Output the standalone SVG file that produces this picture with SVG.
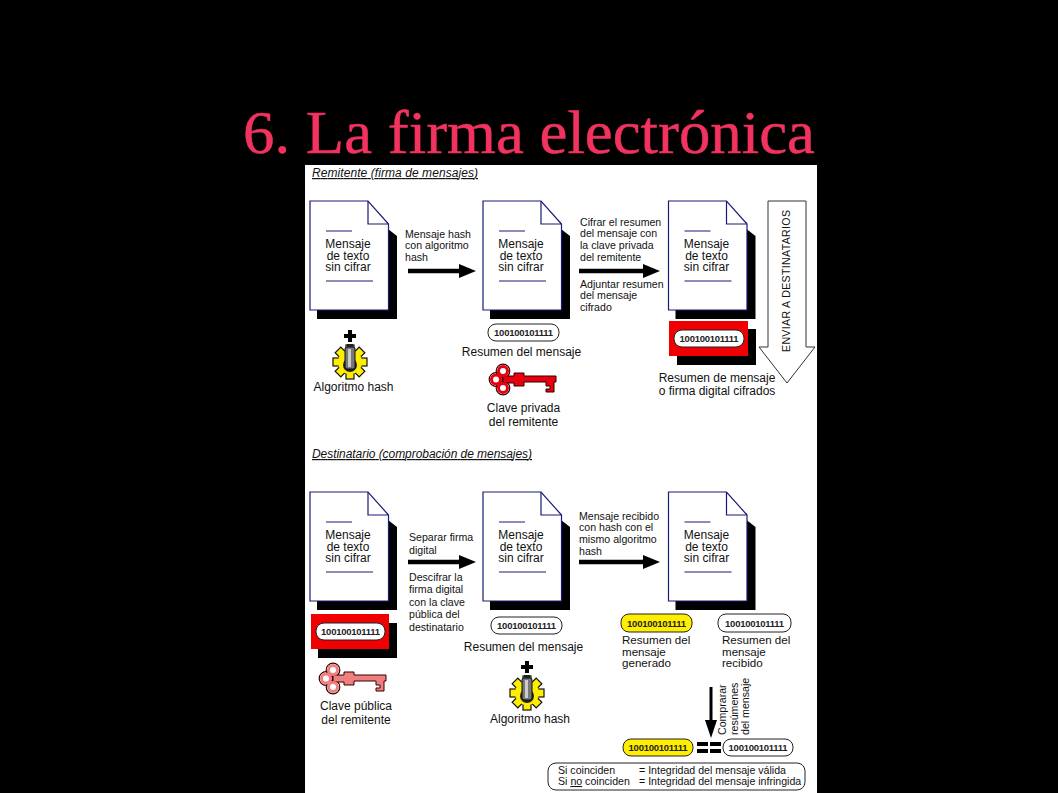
<svg xmlns="http://www.w3.org/2000/svg" width="1058" height="793" viewBox="0 0 1058 793">
<style>
text{font-family:"Liberation Sans",Arial,sans-serif;font-size:10.6px;fill:#111}
.title{font-family:"Liberation Serif","DejaVu Serif",serif;font-size:62px;fill:#f2325f;stroke:#f2325f;stroke-width:.5px}
.head{font-style:italic;text-decoration:underline;font-size:12px}
.c{text-anchor:middle;font-size:12px}
.l{font-size:11.6px}
.num{font-size:9.5px;font-weight:bold;text-anchor:middle;fill:#222;letter-spacing:-.25px}
.pill{fill:#fff;stroke:#222;stroke-width:1}
.y{fill:#ffee00}
.sh{fill:#000}
.a{stroke:#000;stroke-width:4.5;fill:none}
.ah{fill:#000}
.tooth{fill:#ffee00;stroke:#111;stroke-width:1.200}
</style>
<defs>
<g id="doc">
<path class="sh" d="M379 222L397 236V319H317V310H388V222Z"/>
<path d="M310 201H368L388.500 224V310H310Z" fill="#fff" stroke="#1a1a78" stroke-width="1.200"/>
<path d="M368 201V224H388.500" fill="none" stroke="#1a1a78" stroke-width="1.200"/>
<path d="M326 231H352M326 281H373" stroke="#1a1a78" stroke-width="1.200"/>
<text class="c" x="348" y="248">Mensaje</text>
<text class="c" x="348" y="259.500">de texto</text>
<text class="c" x="348" y="271">sin cifrar</text>
</g>
<rect id="tooth" class="tooth" x="-4" y="-17" width="8" height="8"/>
<g id="gear">
<use href="#tooth"/><use href="#tooth" transform="rotate(45)"/><use href="#tooth" transform="rotate(90)"/><use href="#tooth" transform="rotate(135)"/><use href="#tooth" transform="rotate(180)"/><use href="#tooth" transform="rotate(225)"/><use href="#tooth" transform="rotate(270)"/><use href="#tooth" transform="rotate(315)"/>
<circle r="12" fill="#ffee00"/>
<circle cy="3" r="7" fill="#222"/>
<rect x="-5" y="-15" width="10" height="22" rx="2" fill="#777" stroke="#111"/>
<rect x="-2" y="-13" width="3" height="18" fill="#ccc"/>
<rect x="-3" y="-18" width="6" height="3" fill="#222"/>
</g>
<path id="plus" d="M-2-6H2V-2H6V2H2V6H-2V2H-6V-2H-2Z" fill="#000"/>
<g id="key">
<g fill="none" stroke="#300" stroke-width="1.200">
<circle cx="503" cy="371" r="6.800"/><circle cx="496" cy="379.500" r="6.800"/><circle cx="503" cy="388" r="6.800"/>
</g>
<path d="M503 376H514V373H524V376H556V382H554V392H546V389H550V386H546V382H524V386H514V383H503Z" fill="currentColor" stroke="#300" stroke-width="1"/>
<g fill="#fff" stroke-width="3" stroke="currentColor">
<circle cx="503" cy="371" r="4.500"/><circle cx="496" cy="379.500" r="4.500"/><circle cx="503" cy="388" r="4.500"/>
</g>
</g>
</defs>
<rect width="1058" height="793" fill="#000"/>
<rect x="305" y="165" width="512" height="628" fill="#fff"/>
<text id="title" class="title" x="243" y="153" textLength="572" lengthAdjust="spacingAndGlyphs">6. La firma electrónica</text>

<g id="connectors">
<path class="a" d="M408 271H462M579 271H645M408 562H462M579 562H645"/>
<path class="ah" d="M459 264L476 271L459 278ZM643 264L660 271L643 278ZM459 555L476 562L459 569ZM643 555L660 562L643 569Z"/>
<path d="M711 687V722" stroke="#000" stroke-width="3"/>
<path class="ah" d="M705 720H717L711 738Z"/>
<path d="M697 744H708M710 744H721M697 751H708M710 751H721" stroke="#000" stroke-width="4"/>
<path id="send" d="M768 201H806V347H815L787 383L759 347H768Z" fill="#fff" stroke="#333" stroke-width="1"/>
</g>

<g id="sender-heading"><text class="head" x="312" y="177" textLength="166">Remitente (firma de mensajes)</text></g>
<g id="receiver-heading"><text class="head" x="312" y="458" textLength="220">Destinatario (comprobación de mensajes)</text></g>

<g id="doc-s1"><use href="#doc"/></g>
<g id="doc-s2"><use href="#doc" x="173"/></g>
<g id="doc-s3"><use href="#doc" x="358.500"/></g>
<g id="doc-r1"><use href="#doc" y="291"/></g>
<g id="doc-r2"><use href="#doc" x="173" y="291"/></g>
<g id="doc-r3"><use href="#doc" x="358.500" y="291"/></g>

<g id="hash-s"><use href="#plus" x="350" y="336"/><use href="#gear" x="350" y="362"/><text class="c" x="353.500" y="391">Algoritmo hash</text></g>
<g id="hash-r"><use href="#plus" x="527" y="667"/><use href="#gear" x="527" y="693"/><text class="c" x="530" y="723">Algoritmo hash</text></g>

<g id="key-s" color="#e8000f"><use href="#key"/><text class="c" x="523.500" y="412">Clave privada</text><text class="c" x="523.500" y="426">del remitente</text></g>
<g id="key-r" color="#f08080"><use href="#key" x="-170" y="299"/><text class="c" x="356" y="710">Clave pública</text><text class="c" x="356" y="724">del remitente</text></g>

<g id="label-s1"><text x="405" y="238">Mensaje hash</text><text x="405" y="249">con algoritmo</text><text x="405" y="261">hash</text></g>
<g id="label-s2"><text x="580" y="226">Cifrar el resumen</text><text x="580" y="237">del mensaje con</text><text x="580" y="249">la clave privada</text><text x="580" y="261">del remitente</text><text x="580" y="288">Adjuntar resumen</text><text x="580" y="299">del mensaje</text><text x="580" y="311">cifrado</text></g>
<g id="label-r1"><text x="409" y="541">Separar firma</text><text x="409" y="554">digital</text><text x="409" y="581">Descifrar la</text><text x="409" y="593">firma digital</text><text x="409" y="606">con la clave</text><text x="409" y="618">pública del</text><text x="409" y="631">destinatario</text></g>
<g id="label-r2"><text x="579" y="520">Mensaje recibido</text><text x="579" y="531">con hash con el</text><text x="579" y="543">mismo algoritmo</text><text x="579" y="555">hash</text></g>

<g id="digest-s"><rect class="pill" x="488" y="324" width="71" height="17" rx="8"/><text class="num" x="523.500" y="336">100100101111</text><text class="c" x="521.500" y="356">Resumen del mensaje</text></g>
<g id="digest-s3"><rect class="sh" x="677" y="329" width="79" height="36"/><rect x="669" y="321" width="79" height="35" fill="#f00000"/><rect class="pill" x="674" y="330" width="70" height="17" rx="8"/><text class="num" x="709" y="342">100100101111</text><text class="c" x="717" y="382">Resumen de mensaje</text><text class="c" x="717" y="395">o firma digital cifrados</text></g>
<g id="digest-r1"><rect class="sh" x="318" y="623" width="79" height="35"/><rect x="311" y="614" width="78" height="35" fill="#f00000"/><rect class="pill" x="316" y="623" width="69" height="17" rx="8"/><text class="num" x="350.500" y="635">100100101111</text></g>
<g id="digest-r2"><rect class="pill" x="491" y="617" width="71" height="17" rx="8"/><text class="num" x="526.500" y="629">100100101111</text><text class="c" x="523.500" y="651">Resumen del mensaje</text></g>
<g id="digest-gen"><rect class="pill y" x="621" y="614" width="71" height="18" rx="8"/><text class="num" x="656.500" y="627">100100101111</text><text class="l" x="622" y="644">Resumen del</text><text class="l" x="622" y="656">mensaje</text><text class="l" x="622" y="667">generado</text></g>
<g id="digest-rec"><rect class="pill" x="718" y="614" width="73" height="18" rx="8"/><text class="num" x="754.500" y="627">100100101111</text><text class="l" x="722" y="644">Resumen del</text><text class="l" x="722" y="656">mensaje</text><text class="l" x="722" y="667">recibido</text></g>
<g id="compare"><text transform="translate(726 735) rotate(-90)">Comprarar</text><text transform="translate(737.500 735) rotate(-90)">resúmenes</text><text transform="translate(749 735) rotate(-90)">del mensaje</text></g>
<g id="digest-final-y"><rect class="pill y" x="623" y="739" width="70" height="17" rx="8"/><text class="num" x="658" y="751">100100101111</text></g>
<g id="digest-final-w"><rect class="pill" x="723" y="739" width="70" height="17" rx="8"/><text class="num" x="758" y="751">100100101111</text></g>
<g id="result"><rect class="pill" x="548" y="763" width="257" height="27" rx="8"/>
<text x="558" y="774">Si coinciden</text><text x="639" y="774">= Integridad del mensaje válida</text>
<text x="558" y="785">Si <tspan text-decoration="underline">no</tspan> coinciden</text><text x="639" y="785">= Integridad del mensaje infringida</text></g>
<g id="send-label"><text transform="translate(790 352) rotate(-90)" textLength="142">ENVIAR A DESTINATARIOS</text></g>
</svg>
